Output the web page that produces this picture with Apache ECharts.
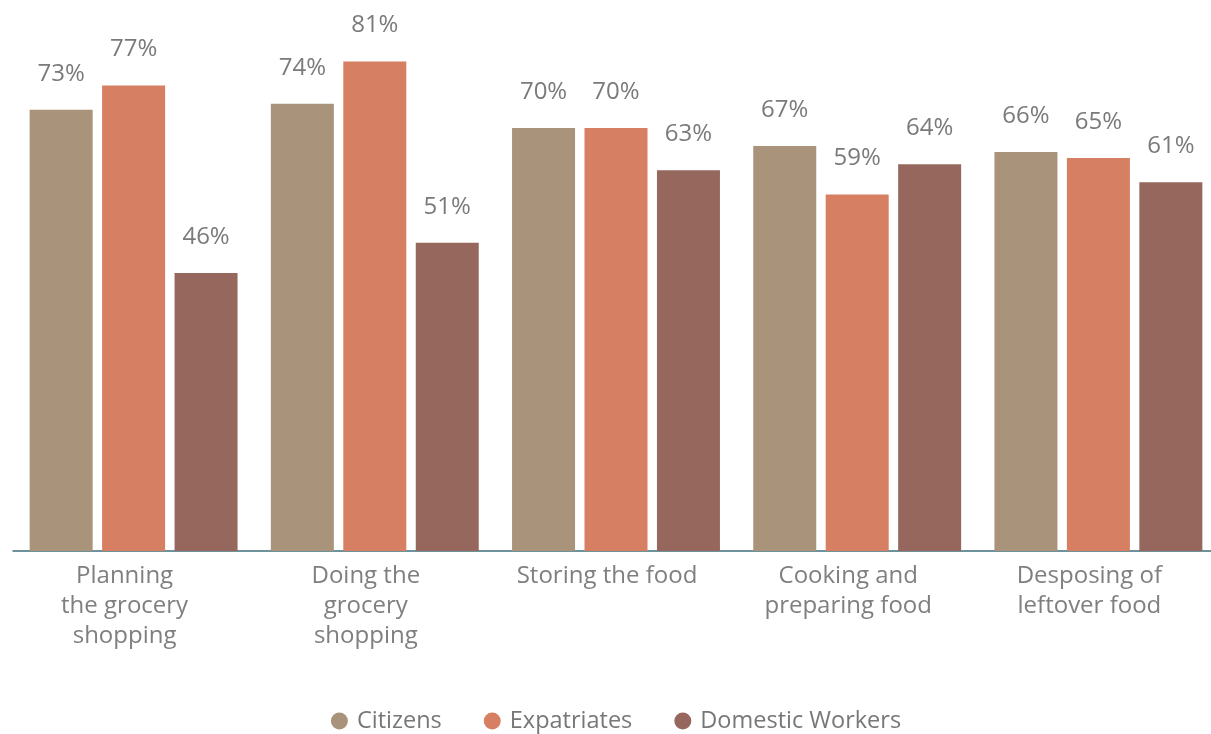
<!DOCTYPE html>
<html>
<head>
<meta charset="utf-8">
<script src="https://cdn.jsdelivr.net/npm/echarts@6/dist/echarts.min.js"></script>
<style>
  html, body { margin: 0; padding: 0; background: #fff; overflow: hidden; }
  #chart { width: 1232px; height: 734px; }
</style>
</head>
<body>
<div id="chart"></div>
<script>
// Share of respondents per household food activity, by group (%)
const categories = [
  'Planning\nthe grocery\nshopping',
  'Doing the\ngrocery\nshopping',
  'Storing the food',
  'Cooking and\npreparing food',
  'Desposing of\nleftover food'
];
const citizens = [73, 74, 70, 67, 66];
const expatriates = [77, 81, 70, 59, 65];
const domesticWorkers = [46, 51, 63, 64, 61];

const seriesNames = ['Citizens', 'Expatriates', 'Domestic Workers'];
const colors = ['#a9937a', '#d67f63', '#96675c'];

const FONT = '"Open Sans", Lato, sans-serif';

const chart = echarts.init(document.getElementById('chart'), null, { renderer: 'canvas' });

function barSeries(name, data, color) {
  return {
    name: name,
    type: 'bar',
    data: data,
    barWidth: 63,
    barGap: '15%',
    itemStyle: { color: color },
    label: {
      show: true,
      position: 'top',
      distance: 24,
      formatter: '{c}%',
      color: '#7a7a7a',
      fontFamily: FONT,
      fontSize: 24
    }
  };
}

chart.setOption({
  animation: false,
  color: colors,
  grid: { left: 13, top: 7, width: 1206, height: 544, containLabel: false },
  legend: {
    bottom: -4,
    left: 'center',
    icon: 'circle',
    itemWidth: 25,
    itemHeight: 17,
    itemGap: 42,
    textStyle: { color: '#777', fontFamily: FONT, fontSize: 23.5 },
    data: seriesNames
  },
  xAxis: {
    type: 'category',
    data: categories,
    axisLine: { lineStyle: { color: '#3f6f78', width: 1.5 } },
    axisTick: { show: false },
    axisLabel: {
      color: '#7f7f7f',
      fontFamily: FONT,
      fontSize: 24,
      lineHeight: 30,
      margin: 10,
      padding: [0, 18, 0, 0],
      interval: 0
    }
  },
  yAxis: {
    type: 'value',
    min: 0,
    max: 90,
    show: false,
    splitLine: { show: false }
  },
  series: [
    barSeries(seriesNames[0], citizens, colors[0]),
    barSeries(seriesNames[1], expatriates, colors[1]),
    barSeries(seriesNames[2], domesticWorkers, colors[2])
  ]
});
</script>
</body>
</html>
